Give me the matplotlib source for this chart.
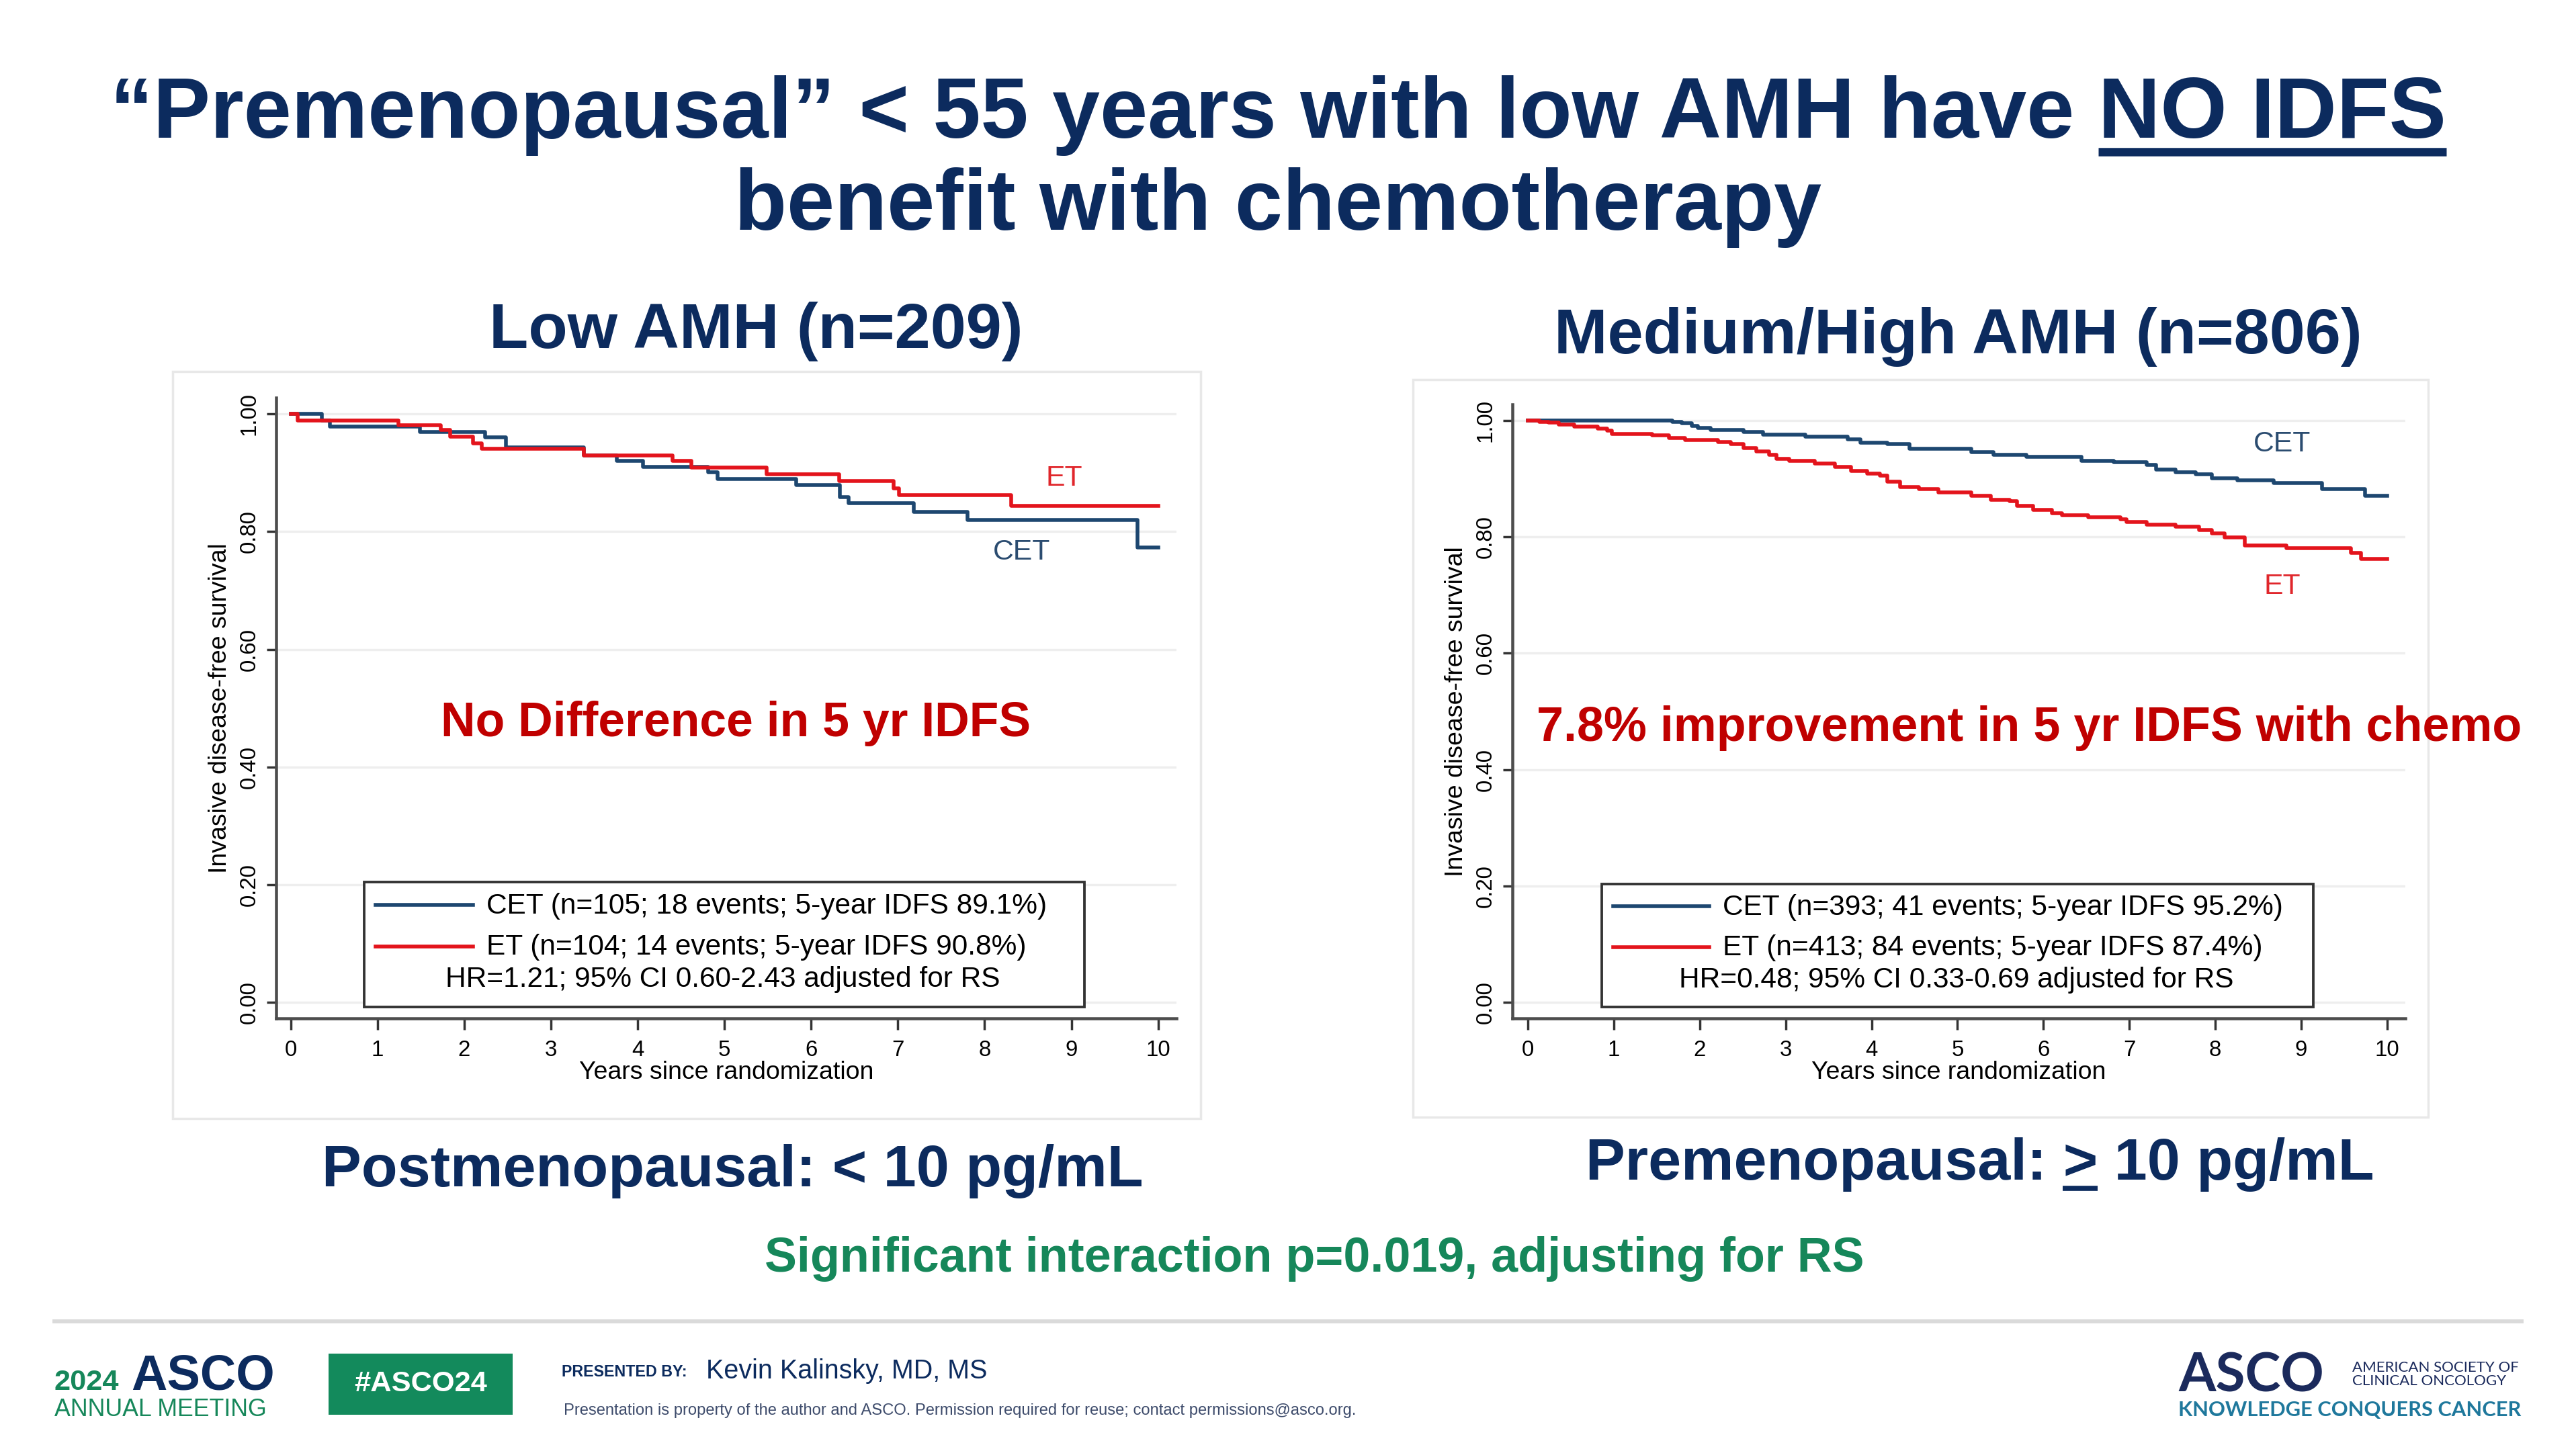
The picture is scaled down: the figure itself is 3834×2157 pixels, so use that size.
import matplotlib
matplotlib.use("Agg")
import matplotlib.pyplot as plt
import matplotlib.patches as patches
from matplotlib.lines import Line2D

plt.rcParams['font.family'] = ['Liberation Sans', 'DejaVu Sans']

# ---- data (years, survival) ----
low_cet_t = [0, 0.36, 0.45, 1.49, 2.24, 2.48, 3.38, 3.76, 4.06, 4.81, 4.92, 5.83, 6.33, 6.43, 7.18, 7.80, 9.76, 10.0]
low_cet_s = [1.0, 0.989, 0.979, 0.970, 0.960, 0.943, 0.930, 0.920, 0.910, 0.901, 0.890, 0.879, 0.859, 0.848, 0.834, 0.820, 0.773, 0.773]
low_et_t = [0, 0.08, 1.24, 1.73, 1.84, 2.10, 2.20, 3.38, 4.40, 4.62, 5.49, 6.32, 6.95, 7.01, 8.31, 10.0]
low_et_s = [1.0, 0.989, 0.981, 0.973, 0.962, 0.950, 0.941, 0.930, 0.920, 0.909, 0.898, 0.886, 0.874, 0.862, 0.844, 0.844]

high_cet_t = [0, 1.68, 1.79, 1.91, 1.98, 2.13, 2.51, 2.74, 3.23, 3.72, 3.87, 4.18, 4.44, 5.16, 5.42, 5.80,
              6.44, 6.82, 7.20, 7.31, 7.54, 7.77, 7.96, 8.26, 8.68, 9.24, 9.74, 10.0]
high_cet_s = [1.0, 0.998, 0.995, 0.991, 0.987, 0.984, 0.980, 0.976, 0.972, 0.967, 0.962, 0.959, 0.951, 0.946, 0.941, 0.937,
              0.931, 0.928, 0.924, 0.916, 0.911, 0.907, 0.901, 0.897, 0.892, 0.882, 0.870, 0.870]
high_et_t = [0, 0.13, 0.24, 0.36, 0.54, 0.81, 0.92, 0.98, 1.45, 1.64, 1.83, 2.21, 2.36, 2.51, 2.66, 2.81, 2.89,
             3.04, 3.34, 3.57, 3.76, 3.95, 4.10, 4.18, 4.33, 4.55, 4.78, 5.16, 5.39, 5.61, 5.69, 5.88,
             6.10, 6.22, 6.52, 6.90, 6.97, 7.20, 7.54, 7.81, 7.96, 8.11, 8.34, 8.83, 9.58, 9.70, 10.0]
high_et_s = [1.0, 0.998, 0.996, 0.993, 0.990, 0.986, 0.982, 0.977, 0.974, 0.970, 0.966, 0.963, 0.959, 0.953, 0.947, 0.941, 0.934,
             0.930, 0.926, 0.920, 0.913, 0.909, 0.905, 0.895, 0.886, 0.882, 0.876, 0.870, 0.864, 0.861, 0.853, 0.846,
             0.841, 0.837, 0.834, 0.830, 0.825, 0.821, 0.817, 0.812, 0.806, 0.799, 0.785, 0.780, 0.772, 0.762, 0.762]

x_ticks = list(range(0, 11))
y_ticks = [0.0, 0.2, 0.4, 0.6, 0.8, 1.0]
y_tick_labels = ["0.00", "0.20", "0.40", "0.60", "0.80", "1.00"]

low_legend = ["CET (n=105; 18 events; 5-year IDFS 89.1%)",
              "ET (n=104; 14 events; 5-year IDFS 90.8%)",
              "HR=1.21; 95% CI 0.60-2.43 adjusted for RS"]
high_legend = ["CET (n=393; 41 events; 5-year IDFS 95.2%)",
               "ET (n=413; 84 events; 5-year IDFS 87.4%)",
               "HR=0.48; 95% CI 0.33-0.69 adjusted for RS"]

NAVY = '#0c2b5e'
BLUE = '#1d4770'
RED = '#e3141c'
DARKRED = '#c00000'
GREEN = '#16875a'

W, H = 1568.0, 882.0   # layout measured on the shrunk reference


def fx(x):
    return x / W


def fy(y):
    return 1 - y / H


fig = plt.figure(figsize=(15.336, 8.628), dpi=250)
fig.patch.set_facecolor('white')
rend = fig.canvas.get_renderer()
FIGW = fig.get_figwidth() * fig.dpi


def text_w(s, **kw):
    t = fig.text(0, 0, s, **kw)
    w = t.get_window_extent(rend).width / FIGW
    t.remove()
    return w


# ---- title ----
tkw = dict(fontsize=36.8, fontweight='bold', color=NAVY)
line1 = "\u201cPremenopausal\u201d < 55 years with low AMH have NO IDFS"
part_b = "NO IDFS"
wfull = text_w(line1, **tkw)
wb = text_w(part_b, **tkw)
x0 = fx(778) - wfull / 2
fig.text(x0, fy(84), line1[:-len(part_b)], ha='left', va='baseline', **tkw)
xb = x0 + wfull - wb
fig.text(xb, fy(84), part_b, ha='left', va='baseline', **tkw)
fig.add_artist(Line2D([xb, xb + wb], [fy(92.5), fy(92.5)], transform=fig.transFigure,
                      color=NAVY, lw=3.6, solid_capstyle='butt'))
fig.text(fx(778), fy(140), "benefit with chemotherapy", ha='center', va='baseline', **tkw)

# ---- panel headings ----
hkw = dict(fontsize=27.5, fontweight='bold', color=NAVY, ha='center', va='baseline')
fig.text(fx(460), fy(212), "Low AMH (n=209)", **hkw)
fig.text(fx(1192), fy(215), "Medium/High AMH (n=806)", **hkw)

fkw = dict(fontsize=25.4, fontweight='bold')
fig.text(fx(446), fy(722), "Postmenopausal: < 10 pg/mL", color=NAVY, ha='center', va='baseline', **fkw)

pre = "Premenopausal: > 10 pg/mL"
wpre = text_w(pre, **fkw)
wp1 = text_w("Premenopausal: >", **fkw)
wgt = text_w(">", **fkw)
xp = fx(1205) - wpre / 2
fig.text(xp, fy(718), pre, color=NAVY, ha='left', va='baseline', **fkw)
fig.add_artist(Line2D([xp + wp1 - wgt, xp + wp1], [fy(723.5), fy(723.5)], transform=fig.transFigure,
                      color=NAVY, lw=2.2, solid_capstyle='butt'))

fig.text(fx(800), fy(774), "Significant interaction p=0.019, adjusting for RS",
         fontsize=20.7, fontweight='bold', color=GREEN, ha='center', va='baseline')

# ---- panel frames ----
for (l, t, r, b) in [(105, 226, 731, 681), (860, 231, 1478, 680)]:
    fig.add_artist(patches.Rectangle((fx(l), fy(b)), fx(r) - fx(l), fy(t) - fy(b),
                                     transform=fig.transFigure, facecolor='white',
                                     edgecolor='#e8e8e8', lw=1.0, zorder=0))


def km_panel(rect, xlim, cet_t, cet_s, et_t, et_s, legend, box, cet_lab, et_lab):
    ax = fig.add_axes(rect)
    ax.set_xlim(*xlim)
    ax.set_ylim(-0.028, 1.028)
    for sp in ['top', 'right']:
        ax.spines[sp].set_visible(False)
    for sp in ['left', 'bottom']:
        ax.spines[sp].set_color('#4d4d4d')
        ax.spines[sp].set_linewidth(1.3)
    ax.set_xticks(x_ticks)
    ax.set_yticks(y_ticks)
    ax.set_yticklabels(y_tick_labels, rotation=90, va='center')
    ax.tick_params(axis='both', colors='#333333', labelcolor='black', labelsize=9.5, width=1.0)
    ax.tick_params(axis='x', length=5, pad=4)
    ax.tick_params(axis='y', length=4, pad=3)
    ax.yaxis.grid(True, color='#eeeeee', lw=1.0)
    ax.set_axisbelow(True)
    ax.set_xlabel("Years since randomization", fontsize=10.8, labelpad=0)
    ax.set_ylabel("Invasive disease-free survival", fontsize=10.8, labelpad=3)

    ax.step(cet_t, cet_s, where='post', color=BLUE, lw=1.6, zorder=3)
    ax.step(et_t, et_s, where='post', color=RED, lw=1.6, zorder=4)

    ax.text(cet_lab[0], cet_lab[1], "CET", color='#2b4c70', fontsize=12.3, ha='center', va='center')
    ax.text(et_lab[0], et_lab[1], "ET", color='#e0262b', fontsize=12.3, ha='center', va='center')

    bx0, bx1, by0, by1 = box
    ax.add_patch(patches.Rectangle((bx0, by0), bx1 - bx0, by1 - by0, facecolor='white',
                                   edgecolor='#333333', lw=1.1, zorder=5, clip_on=False))
    ax.plot([bx0 + 0.13, bx0 + 1.25], [0.165, 0.165], color=BLUE, lw=1.6, zorder=6, clip_on=False)
    ax.plot([bx0 + 0.13, bx0 + 1.25], [0.095, 0.095], color=RED, lw=1.6, zorder=6, clip_on=False)
    ax.text(bx0 + 1.41, 0.163, legend[0], fontsize=12.2, va='center', ha='left', zorder=7)
    ax.text(bx0 + 1.41, 0.093, legend[1], fontsize=12.2, va='center', ha='left', zorder=7)
    ax.text(bx0 + 4.13, 0.038, legend[2], fontsize=12.2, va='center', ha='center', zorder=7)
    return ax


ax1 = km_panel([0.10714, 0.29705, 0.34949, 0.42857], (-0.17, 10.21),
               low_cet_t, low_cet_s, low_et_t, low_et_s, low_legend,
               (0.85, 9.15, -0.008, 0.204), (8.43, 0.765), (8.92, 0.891))
ax2 = km_panel([0.58712, 0.29705, 0.34655, 0.42404], (-0.18, 10.21),
               high_cet_t, high_cet_s, high_et_t, high_et_s, high_legend,
               (0.86, 9.14, -0.008, 0.203), (8.78, 0.960), (8.78, 0.715))

fig.text(fx(448), fy(448), "No Difference in 5 yr IDFS", fontsize=20.6, fontweight='bold',
         color=DARKRED, ha='center', va='baseline')
fig.text(fx(1235), fy(451), "7.8% improvement in 5 yr IDFS with chemo", fontsize=20.7, fontweight='bold',
         color=DARKRED, ha='center', va='baseline')

# ---- footer ----
fig.add_artist(Line2D([fx(33), fx(1535)], [fy(804.5), fy(804.5)], transform=fig.transFigure,
                      color='#dadada', lw=1.7))
fig.text(fx(33), fy(846), "2024", fontsize=12.5, fontweight='bold', color=GREEN, ha='left', va='baseline')
fig.text(fx(80), fy(846), "ASCO", fontsize=21.3, fontweight='bold', color=NAVY, ha='left', va='baseline')
fig.text(fx(33), fy(862), "ANNUAL MEETING", fontsize=10.3, color=GREEN, ha='left', va='baseline')
fig.add_artist(patches.Rectangle((fx(200), fy(861)), fx(312) - fx(200), fy(824) - fy(861),
                                 transform=fig.transFigure, facecolor='#138a5c', edgecolor='none'))
fig.text(fx(256), fy(842.5), "#ASCO24", fontsize=12.5, fontweight='bold', color='white',
         ha='center', va='center')
fig.text(fx(342), fy(838), "PRESENTED BY:", fontsize=6.7, fontweight='bold', color=NAVY,
         ha='left', va='baseline')
fig.text(fx(430), fy(839), "Kevin Kalinsky, MD, MS", fontsize=11.4, color=NAVY, ha='left', va='baseline')
fig.text(fx(343), fy(861), "Presentation is property of the author and ASCO. Permission required for reuse; "
         "contact permissions@asco.org.", fontsize=6.85, color='#3d4b6b', ha='left', va='baseline')

fig.text(fx(1326), fy(847), "ASCO", fontsize=23, fontweight='bold', family=['Lato', 'Liberation Sans'],
         color='#1b2a5c', ha='left', va='baseline')
fig.text(fx(1432), fy(835), "AMERICAN SOCIETY OF", fontsize=6.4, family=['Lato', 'Liberation Sans'],
         color='#1b2a5c', ha='left', va='baseline')
fig.text(fx(1432), fy(843), "CLINICAL ONCOLOGY", fontsize=6.4, family=['Lato', 'Liberation Sans'],
         color='#1b2a5c', ha='left', va='baseline')
fig.text(fx(1326), fy(862), "KNOWLEDGE CONQUERS CANCER", fontsize=8.9, fontweight='bold',
         family=['Lato', 'Liberation Sans'], color='#1f789c', ha='left', va='baseline')

fig.savefig("out.png", dpi=250, facecolor='white')
